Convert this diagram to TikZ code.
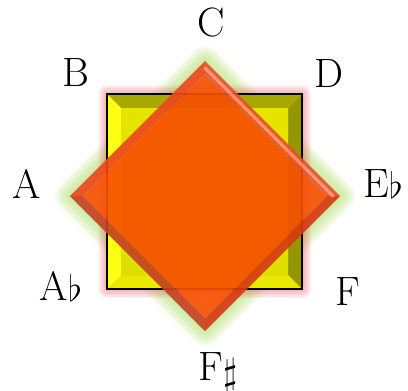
\documentclass[tikz,border=0pt]{standalone}
\usetikzlibrary{calc}
\definecolor{sqface}{RGB}{222,222,0}
\definecolor{sqtop}{RGB}{168,168,0}
\definecolor{sqleft}{RGB}{255,255,20}
\definecolor{sqright}{RGB}{150,150,0}
\definecolor{sqbot}{RGB}{232,232,0}
\definecolor{dface}{RGB}{246,80,0}
\definecolor{dul}{RGB}{236,72,28}
\definecolor{dur}{RGB}{238,78,40}
\definecolor{dlr}{RGB}{214,58,18}
\definecolor{dll}{RGB}{196,66,36}
\definecolor{dhigh}{RGB}{250,145,115}
\definecolor{glowg}{RGB}{150,210,60}
\definecolor{glowr}{RGB}{230,90,90}
\newcommand{\flt}{\raisebox{-1pt}{\scalebox{1.45}{$\flat$}}}
\newcommand{\shp}{\raisebox{-4pt}{\scalebox{1.5}{$\sharp$}}}

\begin{document}
\begin{tikzpicture}[x=1pt, y=-1pt,
  note/.style={font=\fontsize{41}{46}\selectfont, inner sep=0pt, anchor=base},
  glowsq/.style={draw=glowr, line join=round, opacity=0.09},
  glowdia/.style={draw=glowg, line join=round, opacity=0.08}]
\useasboundingbox (0,0) rectangle (408,391);
% ---- corners of the square and the diamond
\coordinate (sqnw) at (107,94);  \coordinate (sqne) at (302,94);
\coordinate (sqse) at (302,289); \coordinate (sqsw) at (107,289);
\coordinate (sqinw) at (121,108); \coordinate (sqine) at (288,108);
\coordinate (sqise) at (288,275); \coordinate (sqisw) at (121,275);
\coordinate (dtop) at (205,61);  \coordinate (dright) at (340,196);
\coordinate (dbot) at (205,331); \coordinate (dleft) at (70,196);
\coordinate (ditop) at (205,74);  \coordinate (diright) at (327,196);
\coordinate (dibot) at (205,318); \coordinate (dileft) at (83,196);
\coordinate (hla) at (205,68);   \coordinate (hlb) at (333,196);
% ---- glows
\foreach \w in {30,26,...,2}
  \draw[glowdia, line width=\w] (dtop) -- (dright) -- (dbot) -- (dleft) -- cycle;
\foreach \w in {18,15,...,3}
  \draw[glowsq, line width=\w] (sqnw) -- (sqne) -- (sqse) -- (sqsw) -- cycle;
% ---- yellow square
\fill[sqtop] (sqnw) -- (sqne) -- (sqine) -- (sqinw) -- cycle;
\fill[sqleft] (sqnw) -- (sqinw) -- (sqisw) -- (sqsw) -- cycle;
\fill[sqright] (sqne) -- (sqse) -- (sqise) -- (sqine) -- cycle;
\fill[sqbot] (sqsw) -- (sqisw) -- (sqise) -- (sqse) -- cycle;
\shade[top color=sqface!80!yellow, bottom color=sqface] (sqinw) rectangle (sqise);
\draw[line width=2] (sqnw) rectangle (sqse);
% ---- orange diamond
\begin{scope}[transparency group, opacity=0.92]
\fill[dface] (ditop) -- (diright) -- (dibot) -- (dileft) -- cycle;
\fill[dul] (dleft) -- (dtop) -- (ditop) -- (dileft) -- cycle;
\fill[dur] (dtop) -- (dright) -- (diright) -- (ditop) -- cycle;
\fill[dlr] (dright) -- (dbot) -- (dibot) -- (diright) -- cycle;
\fill[dll] (dbot) -- (dleft) -- (dileft) -- (dibot) -- cycle;
\draw[dhigh, line width=3.5, line cap=round] (hla) -- (hlb);
\end{scope}
% ---- note names
\node[note] (c) at (211,36) {C};
\node[note] (b) at (76,86) {B};
\node[note] (d) at (329,87) {D};
\node[note] (a) at (27,198) {A};
\node[note] (eb) at (383,197) {E\flt};
\node[note] (ab) at (61,300) {A\flt};
\node[note] (f) at (348,305) {F};
\node[note] (fs) at (218,380) {F\shp};
\end{tikzpicture}
\end{document}
